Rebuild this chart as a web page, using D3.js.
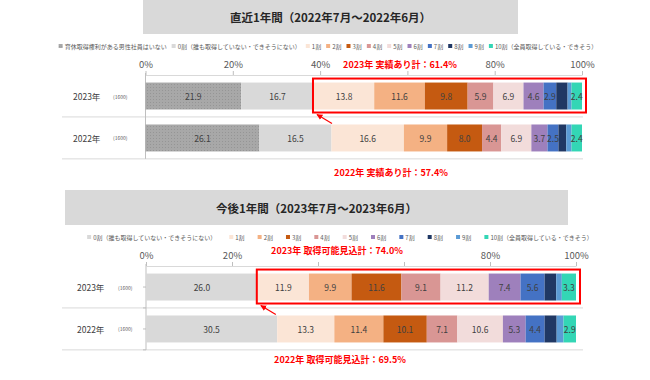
<!DOCTYPE html>
<html>
<head>
<meta charset="utf-8">
<script src="https://cdn.jsdelivr.net/npm/d3@7"></script>
<style>
  body { margin: 0; background: #fff; }
  svg { display: block; font-family: "Noto Sans CJK JP", "Noto Sans", sans-serif; }
</style>
</head>
<body>
<div class="canvas"></div>
<script>
// categories shared by both panels (the second panel drops the first one)
const categories = [
  "育休取得権利がある男性社員はいない",
  "0割（誰も取得していない・できそうにない）",
  "1割", "2割", "3割", "4割", "5割", "6割", "7割", "8割", "9割",
  "10割（全員取得している・できそう）",
];
const years = ["2023年", "2022年"];
const sampleSizes = ["(1600)", "(1600)"];

const past2023 = [21.9, 16.7, 13.8, 11.6, 9.8, 5.9, 6.9, 4.6, 2.9, 2.6, 0.9, 2.4];
const past2022 = [26.1, 16.5, 16.6, 9.9, 8.0, 4.4, 6.9, 3.7, 2.5, 1.8, 1.2, 2.4];
const pastTotals = [61.4, 57.4];

const future2023 = [26.0, 11.9, 9.9, 11.6, 9.1, 11.2, 7.4, 5.6, 2.7, 1.3, 3.3];
const future2022 = [30.5, 13.3, 11.4, 10.1, 7.1, 10.6, 5.3, 4.4, 2.8, 1.6, 2.9];
const futureTotals = [74.0, 69.5];

const tickValues = [0, 20, 40, 60, 80, 100];
const unlabeled = ["8割", "9割"];

const color = d3
  .scaleOrdinal()
  .domain(categories)
  .range([
    "url(#dots)", "#D9D9D9", "#FBE5D6", "#F4B183", "#C55A11", "#D99694",
    "#F2DCDB", "#9E80BC", "#4472C4", "#203864", "#5B9BD5", "#33D6B5",
  ]);

const svg = d3
  .select(".canvas")
  .append("svg")
  .attr("width", 650)
  .attr("height", 380);

const defs = svg.append("defs");
const pat = defs
  .append("pattern")
  .attr("id", "dots")
  .attr("width", 3)
  .attr("height", 3)
  .attr("patternUnits", "userSpaceOnUse");
pat.append("rect").attr("width", 3).attr("height", 3).attr("fill", "#A8A8A8");
pat.append("rect").attr("width", 1).attr("height", 1).attr("fill", "#959595");

defs
  .append("marker")
  .attr("id", "arrow")
  .attr("viewBox", "0 0 10 10")
  .attr("refX", 9)
  .attr("refY", 5)
  .attr("markerWidth", 5)
  .attr("markerHeight", 5)
  .attr("orient", "auto")
  .append("path")
  .attr("d", "M0,0L10,5L0,10z")
  .attr("fill", "#FF0000");

const panels = [
  {
    title: "直近1年間（2022年7月～2022年6月）",
    banner: { x: 143, y: 0, w: 375, h: 34 },
    legendY: 46, legendCx: 328, legendGap: 5,
    cats: categories,
    rows: [past2023, past2022],
    totals: pastTotals,
    totalText: "実績あり計",
    x0: 145.5, x1: 582, axisY: 75,
    coveredTicks: [60],
    labelX: [73, 113],
    totalPos: [[400, 64], [391, 172]],
    leftTicks: false,
  },
  {
    title: "今後1年間（2023年7月～2023年6月）",
    banner: { x: 65, y: 190, w: 503, h: 35 },
    legendY: 237, legendCx: 340, legendGap: 13,
    cats: categories.slice(1),
    rows: [future2023, future2022],
    totals: futureTotals,
    totalText: "取得可能見込計",
    x0: 146, x1: 576, axisY: 266,
    coveredTicks: [40, 60],
    labelX: [77, 118],
    totalPos: [[337, 250], [340, 359]],
    leftTicks: true,
  },
];

const drawPanel = (p) => {
  const g = svg.append("g");

  // title banner
  g.append("rect")
    .attr("x", p.banner.x)
    .attr("y", p.banner.y)
    .attr("width", p.banner.w)
    .attr("height", p.banner.h)
    .attr("fill", "#D9D9D9");
  g.append("text")
    .attr("x", p.banner.x + p.banner.w / 2)
    .attr("y", p.banner.y + p.banner.h / 2)
    .attr("text-anchor", "middle")
    .attr("dominant-baseline", "central")
    .attr("font-size", 11.5)
    .attr("font-weight", "bold")
    .attr("fill", "#262626")
    .text(p.title);

  // legend
  const legend = g.append("g");
  let lx = 0;
  p.cats.forEach((c) => {
    legend
      .append("rect")
      .attr("x", lx)
      .attr("y", -2)
      .attr("width", 4)
      .attr("height", 4)
      .attr("fill", color(c));
    const t = legend
      .append("text")
      .attr("x", lx + 6)
      .attr("y", 0)
      .attr("dominant-baseline", "central")
      .attr("font-size", 6)
      .attr("fill", "#595959")
      .text(c);
    lx += 6 + t.node().getComputedTextLength() + p.legendGap;
  });
  lx -= p.legendGap;
  legend.attr("transform", `translate(${p.legendCx - lx / 2}, ${p.legendY})`);

  // scales
  const x = d3.scaleLinear().domain([0, 100]).range([p.x0, p.x1]);
  const y = d3
    .scaleBand()
    .domain(years)
    .range([p.axisY, p.axisY + 84])
    .paddingInner(0.357)
    .paddingOuter(0.18);
  const step = y.step();

  // row separators
  years.forEach((yr, i) => {
    g.append("line")
      .attr("x1", 62)
      .attr("x2", 583)
      .attr("y1", p.axisY + (i + 1) * step)
      .attr("y2", p.axisY + (i + 1) * step)
      .attr("stroke", "#D9D9D9");
  });

  // percent axis (labels under the red totals are hidden, as in the source)
  const axis = g
    .append("g")
    .attr("transform", `translate(0, ${p.axisY})`)
    .call(
      d3
        .axisTop(x)
        .tickValues(tickValues)
        .tickFormat((d) => (p.coveredTicks.includes(d) ? "" : d + "%"))
        .tickSize(4)
        .tickSizeOuter(0)
        .tickPadding(3)
    );
  axis.select(".domain").attr("stroke", "#D9D9D9");
  axis.selectAll(".tick line").attr("stroke", "#BFBFBF");
  axis
    .selectAll(".tick text")
    .attr("font-size", 9.5)
    .attr("font-family", '"Noto Sans CJK JP", sans-serif')
    .attr("fill", "#595959");

  // category axis line
  g.append("line")
    .attr("x1", x(0))
    .attr("x2", x(0))
    .attr("y1", p.axisY - 2)
    .attr("y2", p.axisY + 2 * step)
    .attr("stroke", "#BFBFBF");
  if (p.leftTicks) {
    const ys = [];
    years.forEach((yr, i) => {
      ys.push(y(yr) + y.bandwidth() / 2, p.axisY + (i + 1) * step);
    });
    g.selectAll(".ltick")
      .data(ys)
      .join("line")
      .attr("x1", x(0) - 3)
      .attr("x2", x(0))
      .attr("y1", (d) => d)
      .attr("y2", (d) => d)
      .attr("stroke", "#BFBFBF");
  }

  // row labels
  years.forEach((yr, i) => {
    const cy = y(yr) + y.bandwidth() / 2;
    g.append("text")
      .attr("x", p.labelX[0])
      .attr("y", cy)
      .attr("dominant-baseline", "central")
      .attr("font-size", 8.5)
      .attr("fill", "#404040")
      .text(yr);
    g.append("text")
      .attr("x", p.labelX[1])
      .attr("y", cy)
      .attr("dominant-baseline", "central")
      .attr("font-size", 5)
      .attr("fill", "#595959")
      .text(sampleSizes[i]);
  });

  // stacked bars
  const table = years.map((yr, i) => {
    const row = { year: yr };
    p.cats.forEach((c, j) => (row[c] = p.rows[i][j]));
    return row;
  });
  const series = d3.stack().keys(p.cats)(table);

  const groups = g
    .selectAll(".series")
    .data(series)
    .join("g")
    .attr("fill", (d) => color(d.key));

  groups
    .selectAll("rect")
    .data((d) => d)
    .join("rect")
    .attr("x", (d) => x(d[0]))
    .attr("y", (d) => y(d.data.year))
    .attr("width", (d) => x(d[1]) - x(d[0]))
    .attr("height", y.bandwidth());

  groups
    .filter((d) => !unlabeled.includes(d.key))
    .selectAll("text")
    .data((d) => d.map((v) => ({ v, key: d.key })))
    .join("text")
    .attr("x", (d) => (x(d.v[0]) + x(d.v[1])) / 2)
    .attr("y", (d) => y(d.v.data.year) + y.bandwidth() / 2)
    .attr("text-anchor", "middle")
    .attr("dominant-baseline", "central")
    .attr("font-size", 8.5)
    .attr("fill", "#404040")
    .text((d) => d3.format(".1f")(d.v[1] - d.v[0]));

  // red box around the "1割〜10割" part of the first row
  const first = series.find((s) => s.key === "1割")[0];
  const bx = x(first[0]) - 1;
  const by = y(years[0]) - 4;
  const bw = x(100) + 4 - bx;
  const bh = y.bandwidth() + 7;
  g.append("rect")
    .attr("x", bx)
    .attr("y", by)
    .attr("width", bw)
    .attr("height", bh)
    .attr("fill", "none")
    .attr("stroke", "#FF0000")
    .attr("stroke-width", 2);
  g.append("line")
    .attr("x1", bx + 19)
    .attr("y1", by + bh + 11)
    .attr("x2", bx + 4)
    .attr("y2", by + bh + 2)
    .attr("stroke", "#FF0000")
    .attr("stroke-width", 1.2)
    .attr("marker-end", "url(#arrow)");

  // total labels
  p.totals.forEach((v, i) => {
    const [tx, ty] = p.totalPos[i];
    const bg = g.append("rect").attr("fill", "#fff");
    const t = g
      .append("text")
      .attr("x", tx)
      .attr("y", ty)
      .attr("text-anchor", "middle")
      .attr("dominant-baseline", "central")
      .attr("font-size", 9)
      .attr("font-weight", "bold")
      .attr("fill", "#FF0000")
      .text(`${years[i]} ${p.totalText}：${d3.format(".1f")(v)}%`);
    const w = t.node().getComputedTextLength();
    bg.attr("x", tx - w / 2 - 3)
      .attr("y", ty - 6)
      .attr("width", w + 6)
      .attr("height", 12);
  });
};

panels.forEach(drawPanel);
</script>
</body>
</html>
